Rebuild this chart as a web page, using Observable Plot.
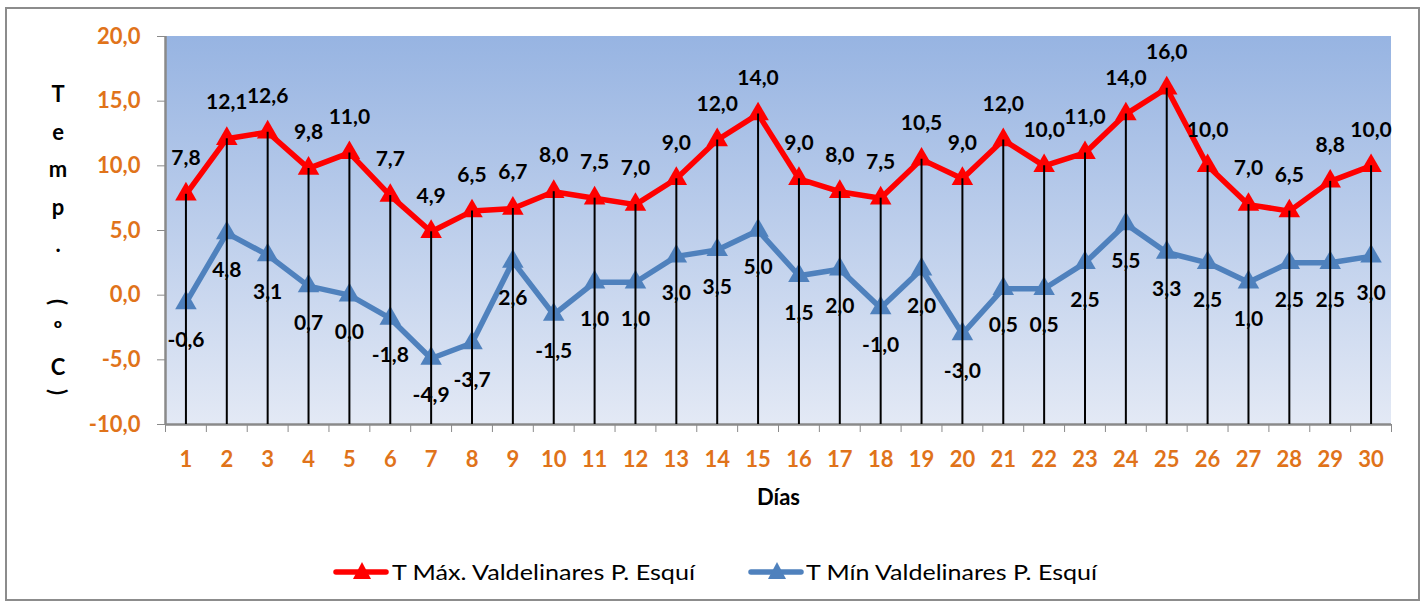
<!DOCTYPE html>
<html>
<head>
<meta charset="utf-8">
<script src="https://cdn.jsdelivr.net/npm/d3@7"></script>
<script src="https://cdn.jsdelivr.net/npm/@observablehq/plot@0.6"></script>
<style>
  html, body { margin: 0; padding: 0; background: #fff; }
  body { width: 1425px; height: 605px; position: relative; overflow: hidden; font-family: Lato, "Open Sans", sans-serif; }
  #frame { position: absolute; left: 5px; top: 7px; width: 1411px; height: 590px; border: 2px solid #8c8c8c; box-sizing: content-box; }
  #chart { position: absolute; left: 0; top: 0; }
  #legend { position: absolute; left: 0; top: 556px; width: 1425px; height: 32px; }
  .leg-sym { position: absolute; top: 0; }
  .leg-txt { position: absolute; top: 0; height: 32px; line-height: 32px; font-size: 22px; color: #000; white-space: nowrap; transform-origin: 0 50%; }
</style>
</head>
<body>
<div id="frame"></div>
<div id="chart"></div>
<div id="legend"></div>
<script>
const days = d3.range(1, 31);
const tMax = [7.8, 12.1, 12.6, 9.8, 11.0, 7.7, 4.9, 6.5, 6.7, 8.0, 7.5, 7.0, 9.0, 12.0, 14.0, 9.0, 8.0, 7.5, 10.5, 9.0, 12.0, 10.0, 11.0, 14.0, 16.0, 10.0, 7.0, 6.5, 8.8, 10.0];
const tMin = [-0.6, 4.8, 3.1, 0.7, 0.0, -1.8, -4.9, -3.7, 2.6, -1.5, 1.0, 1.0, 3.0, 3.5, 5.0, 1.5, 2.0, -1.0, 2.0, -3.0, 0.5, 0.5, 2.5, 5.5, 3.3, 2.5, 1.0, 2.5, 2.5, 3.0];
const yTicks = [-10, -5, 0, 5, 10, 15, 20];
const seriesNames = ["T Máx. Valdelinares P. Esquí", "T Mín Valdelinares P. Esquí"];
const seriesColors = ["#FF0000", "#4F81BD"];
const yTitleChars = ["T", "e", "m", "p", ".", "(", "º", "C", ")"];
const xTitle = "Días";

const rows = days.map((d, i) => ({day: d, max: tMax[i], min: tMin[i]}));
const bounds = d3.range(0.5, 31, 1);
const fmt = v => v.toFixed(1).replace(".", ",");
const orange = "#E0731A";
const gray = "#8a8a8a";
const FONT = "Lato, 'Open Sans', sans-serif";

const background = (index, scales, values, dims) => {
  const g = d3.create("svg:g");
  const defs = g.append("defs");
  const lg = defs.append("linearGradient").attr("id", "bgGrad").attr("x1", 0).attr("y1", 0).attr("x2", 0).attr("y2", 1);
  lg.append("stop").attr("offset", "0%").attr("stop-color", "#97B4E2");
  lg.append("stop").attr("offset", "100%").attr("stop-color", "#E3E9F5");
  g.append("rect")
    .attr("x", dims.marginLeft).attr("y", dims.marginTop)
    .attr("width", dims.width - dims.marginLeft - dims.marginRight)
    .attr("height", dims.height - dims.marginTop - dims.marginBottom)
    .attr("fill", "url(#bgGrad)");
  return g.node();
};

const yTitle = (index, scales, values, dims) => {
  const g = d3.create("svg:g")
    .attr("font-family", FONT)
    .attr("font-weight", "bold").attr("font-size", 22).attr("fill", "#000");
  const ys = [93, 131, 168, 206, 243, 302, 328, 366, 392];
  yTitleChars.forEach((c, i) => {
    const t = g.append("text").attr("text-anchor", "middle").attr("dominant-baseline", "central").text(c);
    if (c === "(" || c === ")") t.attr("transform", `translate(58,${ys[i]}) rotate(90)`);
    else t.attr("x", 58).attr("y", ys[i]);
  });
  return g.node();
};

const chart = Plot.plot({
  width: 1425,
  height: 520,
  marginLeft: 165,
  marginRight: 34,
  marginTop: 36,
  marginBottom: 96,
  style: {fontFamily: FONT, background: "transparent"},
  x: {type: "linear", domain: [0.5, 30.5]},
  y: {domain: [-10, 20]},
  marks: [
    background,
    Plot.axisY({ticks: yTicks, tickFormat: fmt, tickSize: 8, tickPadding: 17, stroke: gray, fill: orange, fontSize: 22, fontWeight: "bold", label: null}),
    Plot.axisX({ticks: bounds, tickSize: 8, tickFormat: () => "", stroke: gray, label: null}),
    Plot.axisX({ticks: days, tickSize: 0, tickPadding: 27, tickFormat: d => String(d), fill: orange, fontSize: 22, fontWeight: "bold", label: null}),
    Plot.ruleX([0.5], {y1: -10, y2: 20, stroke: gray, strokeWidth: 2.5}),
    Plot.ruleY([-10], {stroke: gray, strokeWidth: 2.5}),
    Plot.line(rows, {x: "day", y: "min", stroke: seriesColors[1], strokeWidth: 5.5}),
    Plot.dot(rows, {x: "day", y: "min", symbol: "triangle", r: 8, fill: seriesColors[1], stroke: null}),
    Plot.line(rows, {x: "day", y: "max", stroke: seriesColors[0], strokeWidth: 5.5}),
    Plot.dot(rows, {x: "day", y: "max", symbol: "triangle", r: 8, fill: seriesColors[0], stroke: null}),
    Plot.text(rows, {x: "day", y: "max", text: d => fmt(d.max), dy: -36, fontSize: 21, fontWeight: "bold", fill: "#000"}),
    Plot.text(rows, {x: "day", y: "min", text: d => fmt(d.min), dy: 37, fontSize: 21, fontWeight: "bold", fill: "#000"}),
    Plot.ruleX(rows, {x: "day", y1: -10, y2: "max", stroke: "#000", strokeWidth: 2}),
    Plot.text([xTitle], {frameAnchor: "bottom", dy: 80, fontSize: 22, fontWeight: "bold", fill: "#000"}),
    yTitle
  ]
});
document.getElementById("chart").appendChild(chart);

const legend = document.getElementById("legend");
const symX = [333, 748];
const txtX = [392, 806];
const txtW = [303, 291];
seriesNames.forEach((name, i) => {
  const sym = document.createElement("div");
  sym.className = "leg-sym";
  sym.style.left = symX[i] + "px";
  sym.innerHTML = `<svg width="58" height="32"><line x1="3" y1="16" x2="53" y2="16" stroke="${seriesColors[i]}" stroke-width="5.5" stroke-linecap="round"/><path d="M29,6 L38,23 L20,23 Z" fill="${seriesColors[i]}"/></svg>`;
  legend.appendChild(sym);
  const span = document.createElement("div");
  span.className = "leg-txt";
  span.style.left = txtX[i] + "px";
  span.textContent = name;
  legend.appendChild(span);
  const w = span.getBoundingClientRect().width;
  if (w > 0) span.style.transform = `scaleX(${txtW[i] / w})`;
});
</script>
</body>
</html>
